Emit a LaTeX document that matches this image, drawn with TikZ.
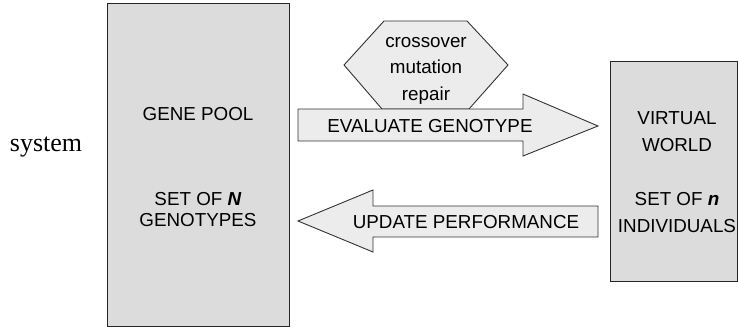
\documentclass[tikz,border=0pt]{standalone}
\usepackage{fontspec}
\setmainfont{Liberation Serif}
\newfontfamily\arialf{Liberation Sans}
\begin{document}
\begin{tikzpicture}[x=1pt,y=-1pt,
  boxshape/.style={draw=black!85,line width=1pt,fill=boxgray},
  arrowshape/.style={draw=black!80,line width=0.9pt,fill=arrowgray,line join=miter},
  lbl/.style={font=\arialf\fontsize{18.8}{18.8}\selectfont,inner sep=0pt,anchor=base},
]
\definecolor{boxgray}{HTML}{DCDCDC}
\definecolor{arrowgray}{HTML}{ECECEC}
\useasboundingbox (0,0) rectangle (738,329);
% boxes
\path[boxshape] (107,4) rectangle (289,326);
\path[boxshape] (610,61) rectangle (737.5,281);
% hexagon
\path[arrowshape] (344,65) -- (384,21) -- (467,21) -- (508,65) -- (469,109) -- (382,109) -- cycle;
% evaluate arrow
\path[arrowshape] (298,109) -- (523,109) -- (523,94) -- (598,126) -- (523,156) -- (523,141) -- (298,141) -- cycle;
% update arrow
\path[arrowshape] (598,206) -- (373,206) -- (373,190) -- (298,221) -- (373,252) -- (373,237) -- (598,237) -- cycle;
% texts
\node[inner sep=0pt,anchor=base,font=\fontsize{26}{26}\selectfont] (sys) at (46,151) {system};
\node[lbl] (gp) at (198,120) {GENE POOL};
\node[lbl] (setN) at (198,205) {SET OF \textbf{\textit{N}}};
\node[lbl] (gt) at (198,226) {GENOTYPES};
\node[lbl] (co) at (426,48) {crossover};
\node[lbl] (mu) at (426,74) {mutation};
\node[lbl] (re) at (426,100) {repair};
\node[lbl] (ev) at (430,132) {EVALUATE GENOTYPE};
\node[lbl] (up) at (466,228) {UPDATE PERFORMANCE};
\node[lbl] (vi) at (677,124) {VIRTUAL};
\node[lbl] (wo) at (677,151) {WORLD};
\node[lbl] (setn) at (677,205) {SET OF \textbf{\textit{n}}};
\node[lbl] (ind) at (677,232) {INDIVIDUALS};
\end{tikzpicture}
\end{document}
